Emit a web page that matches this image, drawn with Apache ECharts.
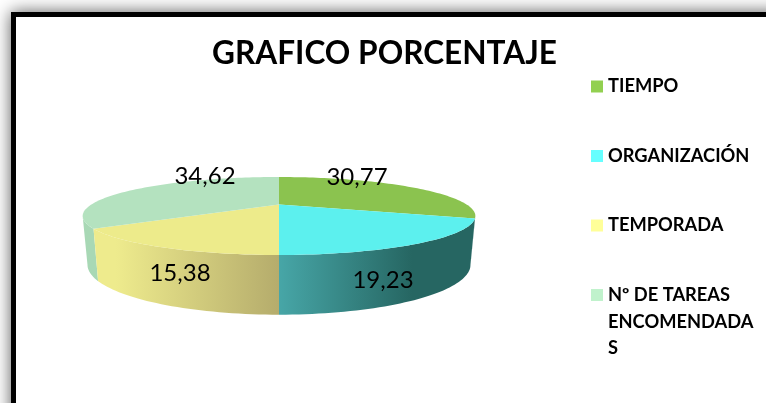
<!DOCTYPE html>
<html><head><meta charset="utf-8">
<style>html,body{margin:0;padding:0;background:#fff}#c{width:766px;height:403px}</style>
<script src="https://cdn.jsdelivr.net/npm/echarts@6/dist/echarts.min.js"></script>
</head><body><div id="c"></div>
<script>
const categories = ['TIEMPO', 'ORGANIZACIÓN', 'TEMPORADA', 'Nº DE TAREAS\nENCOMENDADA\nS'];
const values = [30.77, 19.23, 15.38, 34.62];
const titleText = 'GRAFICO PORCENTAJE';
const legendColors = ['#92D050', '#66FFFF', '#FFFF99', '#C0F2CC'];
const topColors = ['#8BC34F', '#5CF0EE', '#EDEB8B', '#B4E2BF'];
const sideStops = [
  [[0, '#266662'], [1, '#266662']],
  [[0, '#47A6A7'], [0.68, '#266662'], [1, '#266662']],
  [[0, '#EEEB8D'], [0.12, '#EEEB8D'], [1, '#B5AC6C']],
  [[0, '#A8D8B5'], [1, '#A8D8B5']]
];
const labelCenters = [[357, 177], [383, 280], [180, 273], [205, 176]];

const total = values.reduce((a, b) => a + b, 0);
const K = 0.295;
const silhouetteR = Math.acos(-K) * 180 / Math.PI;
const silhouetteL = 360 - silhouetteR;
const topFace = { x0: 279, y0: 204.5, A: 187.6, B: 35.6 };
const bottomFace = { x0: 279, y0: 250, A: 183, B: 45.6 };
function project(f, deg) {
  const t = deg * Math.PI / 180, u = Math.sin(t), v = -Math.cos(t), d = 1 - K * v;
  return [f.x0 + f.A * u / d, f.y0 + f.B * v / d];
}
function arc(f, a, b) {
  const n = Math.max(2, Math.ceil(Math.abs(b - a) / 1.5)), pts = [];
  for (let i = 0; i <= n; i++) pts.push(project(f, a + (b - a) * i / n));
  return pts;
}
function sliceRender(idx) {
  return function (params, api) {
    const v = api.value(0);
    const before = values.slice(0, idx).reduce((a, b) => a + b, 0);
    const a = before / total * 360, b = a + v / total * 360;
    const sa = Math.max(a, silhouetteR), sb = Math.min(b, silhouetteL);
    const sidePts = arc(topFace, sa, sb).concat(arc(bottomFace, sa, sb).reverse());
    return {
      type: 'group',
      children: [
        { type: 'polygon', z2: 1 + (idx === 1 || idx === 2 ? 1 : 0), shape: { points: sidePts },
          style: { fill: new echarts.graphic.LinearGradient(0, 0, 1, 0,
            sideStops[idx].map(s => ({ offset: s[0], color: s[1] }))) } },
        { type: 'polygon', z2: 5, shape: { points: [[topFace.x0, topFace.y0]].concat(arc(topFace, a, b)) },
          style: { fill: topColors[idx] } },
        { type: 'text', z2: 6, x: labelCenters[idx][0], y: labelCenters[idx][1],
          style: { text: v.toFixed(2).replace('.', ','), fill: '#000', align: 'center', verticalAlign: 'middle',
            font: '400 24px Lato' } }
      ]
    };
  };
}
const chart = echarts.init(document.getElementById('c'), null, { renderer: 'canvas' });
chart.setOption({
  animation: false,
  backgroundColor: '#fff',
  title: { text: titleText, left: 379.5, top: 33, textAlign: 'center',
    textStyle: { fontFamily: 'Lato', fontWeight: 'bold', fontSize: 31.6, color: '#000' } },
  legend: {
    orient: 'vertical', left: 591, top: 77.5, padding: 0, itemWidth: 12, itemHeight: 12, itemGap: 51.5, selectedMode: false,
    icon: 'rect',
    formatter: n => n.split('\n')[0],
    textStyle: { fontFamily: 'Lato', fontWeight: 'bold', fontSize: 18.3, color: '#000' },
    data: categories.map((n, i) => ({ name: n, itemStyle: { color: legendColors[i] } }))
  },
  graphic: [
    { type: 'rect', z: -10, silent: true, shape: { x: 11, y: 12, width: 900, height: 600 },
      style: { fill: '#000', shadowBlur: 16, shadowColor: 'rgba(0,0,0,0.65)' } },
    { type: 'rect', z: -9, silent: true, shape: { x: 16, y: 17, width: 900, height: 600 },
      style: { fill: '#fff' } }
  ].concat(categories[3].split('\n').slice(1).map((t, i) => ({
    type: 'text', z: 5, x: 608, y: 322 + 26 * i,
    style: { text: t, fill: '#000', font: 'bold 18.3px Lato', verticalAlign: 'middle' }
  }))),
  series: categories.map((n, i) => ({
    type: 'custom', name: n, coordinateSystem: 'none', silent: true,
    itemStyle: { color: legendColors[i] },
    renderItem: sliceRender(i),
    data: [[values[i]]]
  }))
});
</script></body></html>
